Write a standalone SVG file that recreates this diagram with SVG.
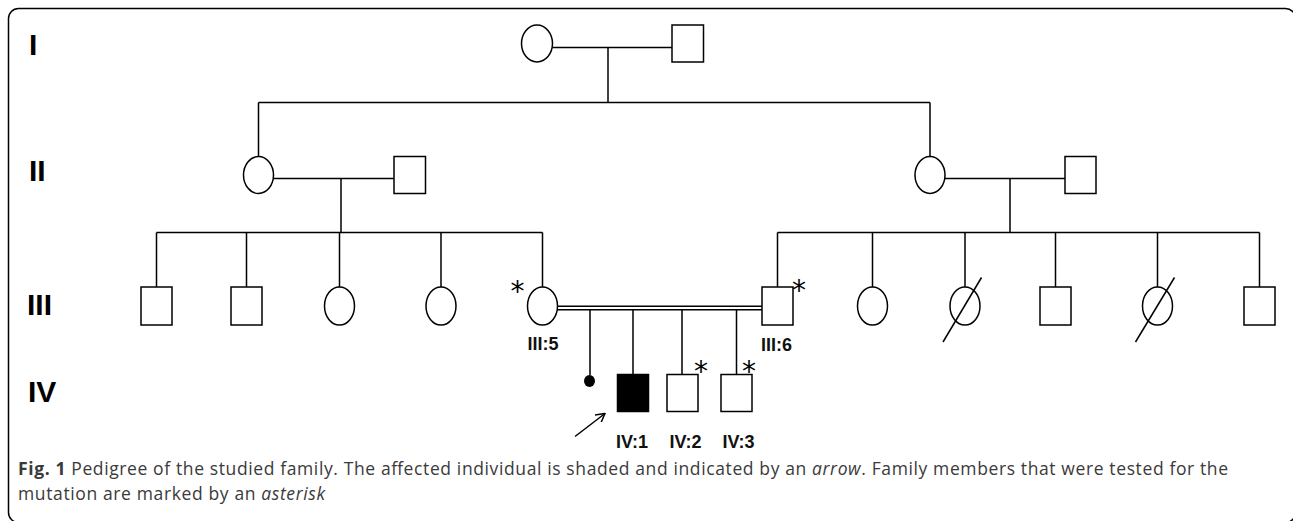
<svg xmlns="http://www.w3.org/2000/svg" width="1293" height="521" viewBox="0 0 1293 521">
<style>
.sh{fill:#fff;stroke:#000;stroke-width:1.5}
.aff{fill:#000;stroke:#000;stroke-width:1.5}
.ln{fill:none;stroke:#000;stroke-width:1.5}
.gen{font-family:"Liberation Sans",Arial,sans-serif;font-weight:bold;font-size:30px;fill:#000}
.lab{font-family:"Liberation Sans",Arial,sans-serif;font-weight:bold;font-size:18px;fill:#111;text-anchor:middle}
.ast{font-family:"DejaVu Sans",sans-serif;font-size:28px;fill:#000;text-anchor:middle}
.cap{font-family:"Open Sans","Liberation Sans",sans-serif;font-size:17.5px;fill:#3a3a3a}
</style>
<defs>
<marker id="ah" viewBox="0 0 10 10" refX="9" refY="5" markerWidth="10" markerHeight="10" markerUnits="userSpaceOnUse" orient="auto">
<path d="M0,0 L9,5 L0,10" fill="none" stroke="#000" stroke-width="1.5"/>
</marker>
</defs>
<rect id="frame" x="8.5" y="8.5" width="1287" height="514" rx="10" fill="none" stroke="#000" stroke-width="1.5"/>

<g id="generation-labels">
<text class="gen" x="29" y="55">I</text>
<text class="gen" x="29" y="181">II</text>
<text class="gen" x="27" y="315">III</text>
<text class="gen" x="28" y="402">IV</text>
</g>

<g id="connectors">
<path class="ln" d="M552.5,47.5 H672 M608,47.5 V102.5 M258.5,102.5 H930 M258.5,102.5 V156.5 M930,102.5 V156.5"/>
<path class="ln" d="M273.5,178.5 H394 M341,178.5 V232.5 M156.5,232.5 H542.5 M156.5,232.5 V287 M246.5,232.5 V287 M339.5,232.5 V287 M441,232.5 V287 M542.5,232.5 V287"/>
<path class="ln" d="M945,178.5 H1065 M1010,178.5 V232.5 M777.5,232.5 H1259.5 M777.5,232.5 V287 M872.5,232.5 V287 M965,232.5 V287 M1055.5,232.5 V287 M1157.5,232.5 V287 M1259.5,232.5 V287"/>
<path class="ln" d="M557.5,306.3 H762 M557,309.7 H762"/>
<path class="ln" d="M590,309.7 V375 M633,309.7 V374.5 M682,309.7 V374.5 M736.5,309.7 V374.5"/>
</g>

<g id="I-1"><ellipse class="sh" cx="537" cy="43.5" rx="15.5" ry="18.5"/></g>
<g id="I-2"><rect class="sh" x="672" y="25" width="31.5" height="37"/></g>

<g id="II-1"><ellipse class="sh" cx="258.5" cy="175" rx="15" ry="18.5"/></g>
<g id="II-2"><rect class="sh" x="394" y="156.5" width="31.5" height="37"/></g>
<g id="II-3"><ellipse class="sh" cx="930" cy="175" rx="15" ry="18.5"/></g>
<g id="II-4"><rect class="sh" x="1065" y="156.5" width="31" height="37"/></g>

<g id="III-1"><rect class="sh" x="141" y="287" width="31" height="38"/></g>
<g id="III-2"><rect class="sh" x="231" y="287" width="31" height="38"/></g>
<g id="III-3"><ellipse class="sh" cx="339.5" cy="306" rx="15" ry="19"/></g>
<g id="III-4"><ellipse class="sh" cx="441" cy="306" rx="15" ry="19"/></g>
<g id="III-5"><ellipse class="sh" cx="542.5" cy="306" rx="15" ry="19"/>
<text class="ast" x="517.5" y="301">*</text>
<text class="lab" x="543" y="350">III:5</text></g>
<g id="III-6"><rect class="sh" x="762" y="287" width="31" height="38"/>
<text class="ast" x="799" y="300">*</text>
<text class="lab" x="776.5" y="351">III:6</text></g>
<g id="III-7"><ellipse class="sh" cx="872.5" cy="306" rx="15" ry="19"/></g>
<g id="III-8"><ellipse class="sh" cx="965" cy="306" rx="15" ry="19"/>
<line class="ln" x1="943" y1="342" x2="981.5" y2="277.5"/></g>
<g id="III-9"><rect class="sh" x="1040" y="287" width="31" height="38"/></g>
<g id="III-10"><ellipse class="sh" cx="1157.5" cy="306" rx="15" ry="19"/>
<line class="ln" x1="1135.5" y1="342" x2="1174.5" y2="277.5"/></g>
<g id="III-11"><rect class="sh" x="1244" y="287" width="31" height="38"/></g>

<g id="IV-miscarriage"><ellipse fill="#000" cx="589.5" cy="381" rx="5.5" ry="6"/></g>
<g id="IV-1"><rect class="aff" x="617.5" y="374.5" width="31" height="37"/>
<text class="lab" x="632" y="448">IV:1</text></g>
<g id="IV-2"><rect class="sh" x="667" y="374.5" width="31" height="37"/>
<text class="ast" x="701" y="380.5">*</text>
<text class="lab" x="685.5" y="448">IV:2</text></g>
<g id="IV-3"><rect class="sh" x="721" y="374.5" width="31" height="37"/>
<text class="ast" x="749" y="380.5">*</text>
<text class="lab" x="738.5" y="448">IV:3</text></g>

<g id="proband-arrow"><line class="ln" x1="575" y1="436.5" x2="605" y2="413.5" marker-end="url(#ah)"/></g>

<g id="caption">
<text class="cap" x="18" y="475" textLength="1210" lengthAdjust="spacing"><tspan font-weight="bold">Fig. 1</tspan> Pedigree of the studied family. The affected individual is shaded and indicated by an <tspan font-style="italic">arrow</tspan>. Family members that were tested for the</text>
<text class="cap" x="18" y="500" textLength="307" lengthAdjust="spacing">mutation are marked by an <tspan font-style="italic">asterisk</tspan></text>
</g>
</svg>
